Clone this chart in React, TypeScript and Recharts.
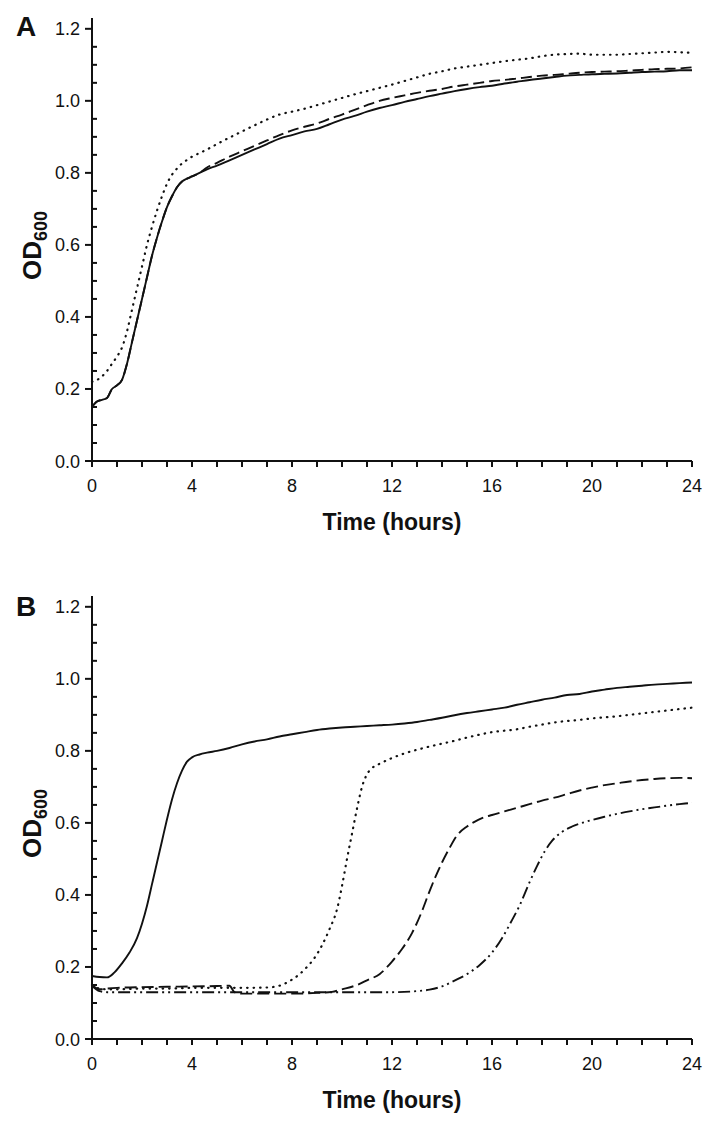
import React from 'react';
import { LineChart, Line, XAxis, YAxis, Label } from 'recharts';

// ── axis ticks ───────────────────────────────────────────────────────────────
const X_TICKS = [0, 1, 2, 3, 4, 5, 6, 7, 8, 9, 10, 11, 12, 13, 14, 15, 16, 17, 18, 19, 20, 21, 22, 23, 24];
const X_LABELED = [0, 4, 8, 12, 16, 20, 24];
const Y_TICKS = [0, 0.05, 0.1, 0.15, 0.2, 0.25, 0.3, 0.35, 0.4, 0.45, 0.5, 0.55, 0.6, 0.65, 0.7, 0.75, 0.8, 0.85, 0.9, 0.95, 1.0, 1.05, 1.1, 1.15, 1.2];
const Y_LABELED = [0, 0.2, 0.4, 0.6, 0.8, 1.0, 1.2];

// ── Panel A ──────────────────────────────────────────────────────────────────
const A_T = [0, 0.2, 0.4, 0.6, 0.8, 1.0, 1.2, 1.4, 1.6, 1.8, 2.0, 2.2, 2.4, 2.6, 2.8, 3.0, 3.2, 3.4, 3.6, 3.8, 4.0, 4.3, 4.6, 5, 5.5, 6, 6.5, 7, 7.5, 8, 8.5, 9, 9.5, 10, 10.5, 11, 11.5, 12, 12.5, 13, 13.5, 14, 14.5, 15, 15.5, 16, 16.5, 17, 17.5, 18, 18.5, 19, 19.5, 20, 20.5, 21, 21.5, 22, 22.5, 23, 23.5, 24];
const A_SOLID = [0.15, 0.165, 0.17, 0.175, 0.2, 0.21, 0.225, 0.27, 0.33, 0.39, 0.45, 0.51, 0.57, 0.62, 0.665, 0.705, 0.735, 0.76, 0.776, 0.784, 0.79, 0.8, 0.81, 0.82, 0.835, 0.85, 0.865, 0.88, 0.895, 0.905, 0.915, 0.922, 0.935, 0.948, 0.958, 0.97, 0.98, 0.988, 0.997, 1.005, 1.013, 1.02, 1.027, 1.033, 1.038, 1.042, 1.048, 1.053, 1.058, 1.062, 1.066, 1.07, 1.072, 1.074, 1.075, 1.076, 1.078, 1.08, 1.081, 1.082, 1.085, 1.085];
const A_DASHED = [0.15, 0.165, 0.17, 0.175, 0.2, 0.21, 0.225, 0.27, 0.33, 0.39, 0.45, 0.51, 0.57, 0.62, 0.665, 0.705, 0.735, 0.76, 0.776, 0.784, 0.79, 0.8, 0.815, 0.828, 0.845, 0.86, 0.875, 0.89, 0.905, 0.918, 0.928, 0.937, 0.95, 0.962, 0.975, 0.988, 1.0, 1.008, 1.015, 1.022, 1.028, 1.033, 1.04, 1.045, 1.05, 1.055, 1.058, 1.062, 1.066, 1.07, 1.072, 1.075, 1.078, 1.08, 1.081, 1.082, 1.084, 1.086, 1.088, 1.089, 1.09, 1.093];
const A_DOTTED = [0.22, 0.225, 0.235, 0.25, 0.27, 0.29, 0.315, 0.36, 0.42, 0.48, 0.54, 0.6, 0.65, 0.695, 0.735, 0.77, 0.795, 0.812, 0.826, 0.836, 0.845, 0.855, 0.865, 0.88, 0.898, 0.915, 0.932, 0.948, 0.962, 0.97, 0.978, 0.988, 0.998, 1.008, 1.018, 1.027, 1.036, 1.045, 1.055, 1.065, 1.075, 1.082, 1.09, 1.095, 1.1, 1.105, 1.11, 1.114, 1.118, 1.124, 1.128, 1.13, 1.131, 1.128, 1.128, 1.128, 1.13, 1.132, 1.134, 1.136, 1.135, 1.133];

// ── Panel B ──────────────────────────────────────────────────────────────────
const B_SOLID_T = [0, 0.3, 0.6, 0.9, 1.2, 1.5, 1.8, 2.0, 2.2, 2.4, 2.6, 2.8, 3.0, 3.2, 3.4, 3.6, 3.8, 4.0, 4.3, 4.6, 5, 5.5, 6, 6.5, 7, 7.5, 8, 8.5, 9, 9.5, 10, 10.5, 11, 11.5, 12, 12.5, 13, 13.5, 14, 14.5, 15, 15.5, 16, 16.5, 17, 17.5, 18, 18.5, 19, 19.5, 20, 20.5, 21, 21.5, 22, 22.5, 23, 23.5, 24];
const B_SOLID = [0.175, 0.172, 0.171, 0.185, 0.21, 0.24, 0.28, 0.32, 0.37, 0.43, 0.49, 0.55, 0.61, 0.665, 0.71, 0.745, 0.77, 0.782, 0.79, 0.795, 0.8, 0.808, 0.818, 0.826, 0.832, 0.84, 0.846, 0.852, 0.858, 0.862, 0.865, 0.867, 0.869, 0.871, 0.873, 0.876, 0.88, 0.886, 0.892, 0.899, 0.905, 0.91, 0.915, 0.92, 0.928, 0.935, 0.942, 0.948, 0.955, 0.958, 0.965, 0.97, 0.975, 0.978, 0.981, 0.984, 0.986, 0.988, 0.99];

const B_DOTTED_T = [0, 0.3, 0.6, 1, 2, 3, 4, 5, 6, 7, 7.5, 8, 8.3, 8.6, 8.9, 9.2, 9.5, 9.8, 10.0, 10.2, 10.4, 10.6, 10.8, 11.0, 11.2, 11.5, 12, 12.5, 13, 13.5, 14, 14.5, 15, 15.5, 16, 16.5, 17, 17.5, 18, 18.5, 19, 19.5, 20, 20.5, 21, 21.5, 22, 22.5, 23, 23.5, 24];
const B_DOTTED = [0.15, 0.14, 0.138, 0.138, 0.14, 0.14, 0.142, 0.142, 0.142, 0.143, 0.148, 0.165, 0.18, 0.2, 0.225, 0.26, 0.305, 0.36, 0.425, 0.5, 0.57, 0.64, 0.7, 0.735, 0.752, 0.764, 0.78, 0.793, 0.803, 0.812, 0.82, 0.828, 0.837, 0.845, 0.852, 0.856, 0.86, 0.867, 0.873, 0.879, 0.883, 0.886, 0.89, 0.893, 0.896, 0.9, 0.904, 0.908, 0.912, 0.916, 0.92];

const B_DASHED_T = [0, 0.3, 0.6, 1, 2, 3, 4, 5, 5.5, 5.7, 6, 7, 8, 9, 9.6, 10, 10.6, 11, 11.5, 12, 12.4, 12.8, 13.2, 13.5, 13.8, 14.0, 14.3, 14.6, 15.0, 15.3, 15.6, 16, 16.5, 17, 17.5, 18, 18.5, 19, 19.5, 20, 20.5, 21, 21.5, 22, 22.5, 23, 23.5, 24];
const B_DASHED = [0.15, 0.138, 0.14, 0.142, 0.144, 0.145, 0.146, 0.147, 0.148, 0.13, 0.126, 0.126, 0.126, 0.128, 0.131, 0.138, 0.15, 0.163, 0.18, 0.215, 0.25, 0.294, 0.355, 0.41, 0.46, 0.49, 0.53, 0.565, 0.59, 0.603, 0.613, 0.622, 0.632, 0.642, 0.652, 0.662, 0.67, 0.68, 0.69, 0.698, 0.705, 0.71, 0.715, 0.719, 0.722, 0.724, 0.725, 0.724];

const B_DASHDOT_T = [0, 0.3, 0.6, 1, 2, 4, 6, 8, 10, 12, 13, 13.5, 14, 14.5, 15, 15.5, 16, 16.4, 16.8, 17.1, 17.5, 17.8, 18.1, 18.4, 18.8, 19.2, 19.6, 20, 20.5, 21, 21.5, 22, 22.5, 23, 23.5, 24];
const B_DASHDOT = [0.148, 0.133, 0.13, 0.13, 0.13, 0.13, 0.13, 0.13, 0.13, 0.13, 0.133, 0.137, 0.146, 0.162, 0.18, 0.205, 0.24, 0.28, 0.33, 0.37, 0.435, 0.48, 0.52, 0.55, 0.575, 0.59, 0.6, 0.608, 0.617, 0.625, 0.632, 0.638, 0.643, 0.648, 0.652, 0.656];

const toPts = (t: number[], v: number[]) => t.map((x, i) => ({ t: x, v: v[i] }));

const FONT = '"Liberation Sans", Arial, Helvetica, sans-serif';
const INK = '#111';

function XTick(props: any) {
  const { x, y, payload } = props;
  const val = payload.value as number;
  const labeled = X_LABELED.includes(val);
  return (
    <g>
      <line x1={x} x2={x} y1={y} y2={y + 6} stroke={INK} strokeWidth={2} />
      {labeled && (
        <text x={x} y={y + 31} textAnchor="middle" fontSize={18} fontFamily={FONT} fill={INK}>{val}</text>
      )}
    </g>
  );
}

function YTick(props: any) {
  const { x, y, payload } = props;
  const val = payload.value as number;
  const labeled = Y_LABELED.some(l => Math.abs(l - val) < 1e-6);
  return (
    <g>
      {labeled
        ? <line x1={x - 7} x2={x} y1={y} y2={y} stroke={INK} strokeWidth={2} />
        : <line x1={x} x2={x + 5} y1={y} y2={y} stroke={INK} strokeWidth={2} />}
      {labeled && (
        <text x={x - 12} y={y + 6.5} textAnchor="end" fontSize={18} fontFamily={FONT} fill={INK}>{val.toFixed(1)}</text>
      )}
    </g>
  );
}

function TimeLabel(props: any) {
  const vb = props.viewBox || { x: 92, y: 461, width: 600 };
  return (
    <text x={vb.x + vb.width / 2} y={vb.y + 69} textAnchor="middle" fontSize={23} fontWeight="bold" fontFamily={FONT} fill={INK}>
      Time (hours)
    </text>
  );
}

function ODLabel(props: any) {
  const vb = props.viewBox || { x: 0, y: 18, width: 92, height: 443 };
  const cx = 41;
  const cy = vb.y + vb.height / 2 + 6;
  return (
    <text x={cx} y={cy} transform={`rotate(-90, ${cx}, ${cy})`} textAnchor="middle" fontSize={26} fontWeight="bold" fontFamily={FONT} fill={INK}>
      OD<tspan fontSize={18} dy={6}>600</tspan>
    </text>
  );
}

type Series = { data: { t: number; v: number }[]; dash?: string; cap?: 'round' | 'butt'; w?: number };

function Panel({ series }: { series: Series[] }) {
  return (
    <LineChart width={717} height={550} margin={{ top: 18, right: 25, bottom: 0, left: 0 }}>
      <XAxis
        type="number" dataKey="t" domain={[0, 24]} ticks={X_TICKS} interval={0}
        tick={<XTick />} tickSize={0} tickMargin={0} tickLine={false}
        axisLine={{ stroke: INK, strokeWidth: 2 }} height={89}
        label={<Label content={<TimeLabel />} />}
      />
      <YAxis
        type="number" domain={[0, 1.23]} ticks={Y_TICKS} interval={0} allowDataOverflow
        tick={<YTick />} tickSize={0} tickMargin={0} tickLine={false}
        axisLine={{ stroke: INK, strokeWidth: 2 }} width={92}
        label={<Label content={<ODLabel />} />}
      />
      {series.map((s, i) => (
        <Line
          key={i} data={s.data} dataKey="v" type="monotone" stroke={INK} strokeWidth={s.w || 1.9}
          strokeDasharray={s.dash} strokeLinecap={s.cap || 'butt'} dot={false} activeDot={false}
          isAnimationActive={false}
        />
      ))}
    </LineChart>
  );
}

const letterStyle: React.CSSProperties = {
  position: 'absolute', left: 16, fontFamily: FONT, fontWeight: 'bold', fontSize: 28, lineHeight: '28px', color: INK,
};

export default function App() {
  const panelA: Series[] = [
    { data: toPts(A_T, A_DOTTED), dash: '0.5 6', cap: 'round', w: 2.2 },
    { data: toPts(A_T, A_DASHED), dash: '11 5' },
    { data: toPts(A_T, A_SOLID) },
  ];
  const panelB: Series[] = [
    { data: toPts(B_SOLID_T, B_SOLID) },
    { data: toPts(B_DOTTED_T, B_DOTTED), dash: '0.5 6', cap: 'round', w: 2.2 },
    { data: toPts(B_DASHED_T, B_DASHED), dash: '12 5' },
    { data: toPts(B_DASHDOT_T, B_DASHDOT), dash: '12 4 2 4 2 4' },
  ];
  return (
    <div style={{ position: 'absolute', left: 0, top: 0, width: 717, height: 1129, background: '#fff', overflow: 'hidden' }}>
      <div style={{ position: 'absolute', left: 0, top: 0 }}>
        <Panel series={panelA} />
      </div>
      <div style={{ ...letterStyle, top: 13 }}>A</div>
      <div style={{ position: 'absolute', left: 0, top: 578 }}>
        <Panel series={panelB} />
      </div>
      <div style={{ ...letterStyle, top: 593 }}>B</div>
    </div>
  );
}
